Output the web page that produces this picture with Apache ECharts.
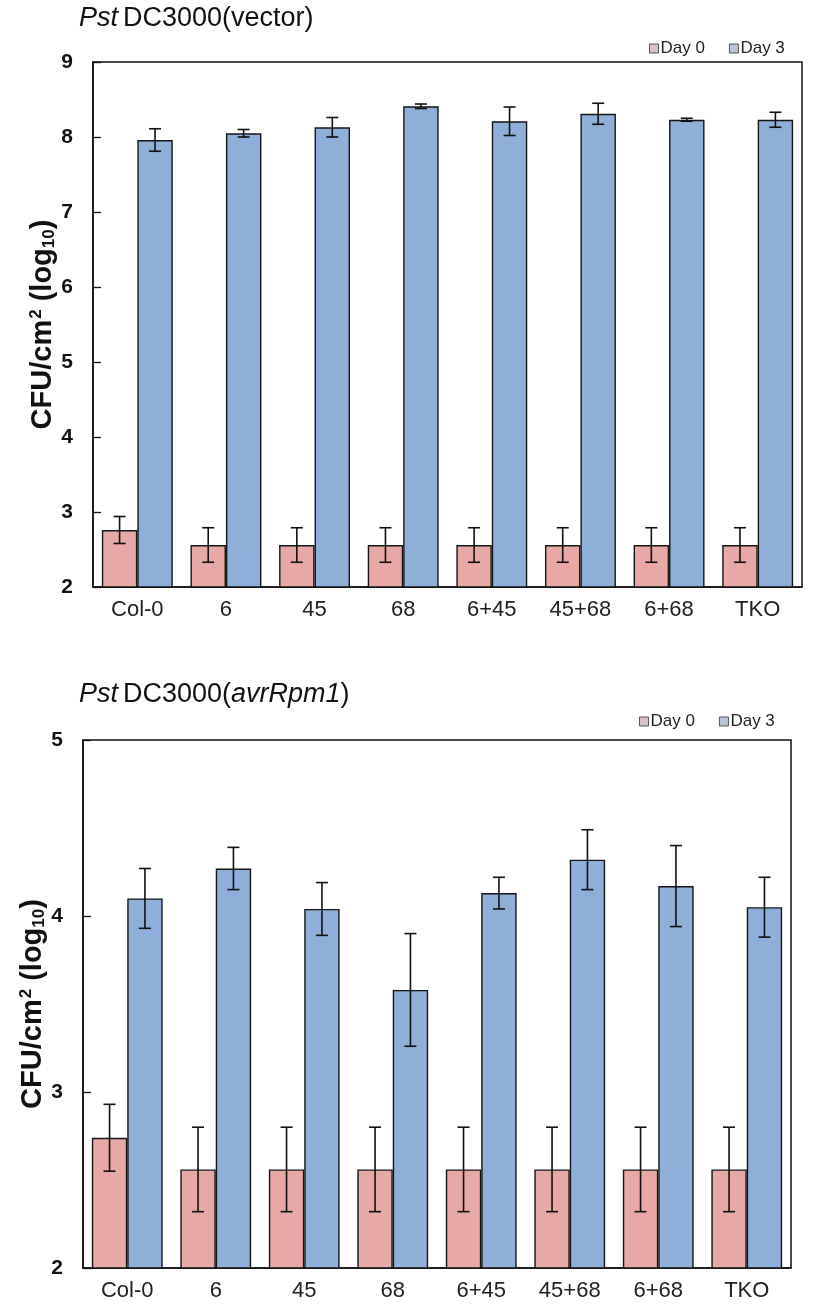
<!DOCTYPE html>
<html>
<head>
<meta charset="utf-8">
<script src="https://cdn.jsdelivr.net/npm/echarts@6/dist/echarts.min.js"></script>
<style>
html,body{margin:0;padding:0;background:#fff;}
#chart{width:824px;height:1310px;}
</style>
</head>
<body>
<div id="chart"></div>
<script>
// ---- data ----
var categories = ['Col-0', '6', '45', '68', '6+45', '45+68', '6+68', 'TKO'];
var seriesNames = ['Day 0', 'Day 3'];

var vectorDay0 = [2.76, 2.56, 2.56, 2.56, 2.56, 2.56, 2.56, 2.56];
var vectorDay0Err = [0.18, 0.23, 0.23, 0.23, 0.23, 0.23, 0.23, 0.23];
var vectorDay3 = [7.96, 8.05, 8.13, 8.41, 8.21, 8.31, 8.23, 8.23];
var vectorDay3Err = [0.15, 0.05, 0.13, 0.03, 0.19, 0.14, 0.02, 0.10];

var avrDay0 = [2.74, 2.56, 2.56, 2.56, 2.56, 2.56, 2.56, 2.56];
var avrDay0Err = [0.19, 0.24, 0.24, 0.24, 0.24, 0.24, 0.24, 0.24];
var avrDay3 = [4.10, 4.27, 4.04, 3.58, 4.13, 4.32, 4.17, 4.05];
var avrDay3Err = [0.17, 0.12, 0.15, 0.32, 0.09, 0.17, 0.23, 0.17];

var yTicksTop = {min: 2, max: 9, interval: 1};
var yTicksBottom = {min: 2, max: 5, interval: 1};

// ---- styles ----
var colDay0 = '#E8A8A6';
var colDay3 = '#8EAFDA';
var gapRatio = 0.2;

function errSeries(name, vals, errs, gridIdx, slot) {
  var data = vals.map(function (v, i) { return [i, v, errs[i]]; });
  return {
    type: 'custom',
    name: name + ' err',
    xAxisIndex: gridIdx, yAxisIndex: gridIdx,
    data: data,
    z: 10,
    silent: true,
    renderItem: function (params, api) {
      var idx = api.value(0), v = api.value(1), e = api.value(2);
      var band = api.size([1, 0])[0];
      var bw = band * (1 - gapRatio) / 2;
      var c = api.coord([idx, v]);
      var x = c[0] + (slot === 0 ? -bw / 2 : bw / 2);
      var yHi = api.coord([idx, v + e])[1];
      var yLo = api.coord([idx, v - e])[1];
      var cap = 6;
      var st = {stroke: '#111', lineWidth: 1.6};
      return {
        type: 'group',
        children: [
          {type: 'line', shape: {x1: x, y1: yHi, x2: x, y2: yLo}, style: st},
          {type: 'line', shape: {x1: x - cap, y1: yHi, x2: x + cap, y2: yHi}, style: st},
          {type: 'line', shape: {x1: x - cap, y1: yLo, x2: x + cap, y2: yLo}, style: st}
        ]
      };
    }
  };
}

function barSeries(name, vals, color, gridIdx) {
  return {
    type: 'bar', name: name,
    xAxisIndex: gridIdx, yAxisIndex: gridIdx,
    data: vals,
    barGap: '0%',
    barCategoryGap: (gapRatio * 100) + '%',
    itemStyle: {color: color, borderColor: '#151515', borderWidth: 1.4},
    emphasis: {disabled: true}
  };
}

var yName = '{a|CFU/cm}{sup|2}{a| (log}{sub|10}{a|)}';
var yNameRich = {
  a: {fontSize: 29, fontWeight: 'bold', fontFamily: 'Liberation Sans', color: '#111', lineHeight: 34, verticalAlign: 'middle'},
  sup: {fontSize: 17, fontWeight: 'bold', fontFamily: 'Liberation Sans', color: '#111', lineHeight: 34, verticalAlign: 'top', padding: [2, 0, 0, 1]},
  sub: {fontSize: 17, fontWeight: 'bold', fontFamily: 'Liberation Sans', color: '#111', lineHeight: 34, verticalAlign: 'bottom', padding: [0, 0, 2, 0]}
};

function xAxis(gridIdx) {
  return {
    type: 'category', gridIndex: gridIdx, data: categories,
    axisLine: {lineStyle: {color: '#111', width: 1.5}},
    axisTick: {inside: true, length: 6, lineStyle: {color: '#111', width: 1.3}},
    axisLabel: {fontFamily: 'Liberation Sans', fontSize: 22, color: '#222', margin: 12}
  };
}
function yAxis(gridIdx, t) {
  return {
    type: 'value', gridIndex: gridIdx, min: t.min, max: t.max, interval: t.interval,
    name: yName, nameLocation: 'middle', nameRotate: 90, nameGap: 33,
    nameMoveOverlap: false,
    nameTextStyle: {rich: yNameRich},
    splitLine: {show: false},
    axisLine: {show: true, lineStyle: {color: '#111', width: 1.5}},
    axisTick: {show: true, inside: true, length: 8, lineStyle: {color: '#111', width: 1.3}},
    axisLabel: {fontFamily: 'Liberation Sans', fontWeight: 'bold', fontSize: 21, color: '#111', margin: 20}
  };
}

var titleRich = {
  i: {fontStyle: 'italic', fontWeight: 'normal', fontSize: 27, fontFamily: 'Liberation Sans', color: '#111'},
  n: {fontStyle: 'normal', fontWeight: 'normal', fontSize: 27, fontFamily: 'Liberation Sans', color: '#111'}
};

var legendData = [
  {name: 'Day 0', itemStyle: {color: '#D8C3C4', borderColor: '#555', borderWidth: 1}},
  {name: 'Day 3', itemStyle: {color: '#B9C6D6', borderColor: '#555', borderWidth: 1}}
];
function legend(top, left) {
  return {
    top: top, left: left, icon: 'rect', itemWidth: 9, itemHeight: 9, itemGap: 24,
    selectedMode: false,
    data: legendData,
    textStyle: {fontFamily: 'Liberation Sans', fontSize: 17, color: '#222', padding: [0, 0, 0, -3]}
  };
}

var option = {
  backgroundColor: '#fff',
  animation: false,
  title: [
    {text: '{i|Pst} {n|DC3000(vector)}', left: 74, top: 0, textStyle: {fontWeight: 'normal', rich: titleRich}},
    {text: '{i|Pst} {n|DC3000(}{i|avrRpm1}{n|)}', left: 74, top: 676, textStyle: {fontWeight: 'normal', rich: titleRich}}
  ],
  legend: [legend(35, 644), legend(708, 634)],
  grid: [
    {left: 93, right: 22, top: 62, height: 525, show: true, borderColor: '#111', borderWidth: 1.5, backgroundColor: 'transparent'},
    {left: 83, right: 33, top: 740, height: 528, show: true, borderColor: '#111', borderWidth: 1.5, backgroundColor: 'transparent'}
  ],
  xAxis: [xAxis(0), xAxis(1)],
  yAxis: [yAxis(0, yTicksTop), yAxis(1, yTicksBottom)],
  series: [
    barSeries(seriesNames[0], vectorDay0, colDay0, 0),
    barSeries(seriesNames[1], vectorDay3, colDay3, 0),
    barSeries(seriesNames[0], avrDay0, colDay0, 1),
    barSeries(seriesNames[1], avrDay3, colDay3, 1),
    errSeries(seriesNames[0], vectorDay0, vectorDay0Err, 0, 0),
    errSeries(seriesNames[1], vectorDay3, vectorDay3Err, 0, 1),
    errSeries(seriesNames[0], avrDay0, avrDay0Err, 1, 0),
    errSeries(seriesNames[1], avrDay3, avrDay3Err, 1, 1)
  ]
};

var chart = echarts.init(document.getElementById('chart'), null, {renderer: 'canvas'});
chart.setOption(option);
</script>
</body>
</html>
